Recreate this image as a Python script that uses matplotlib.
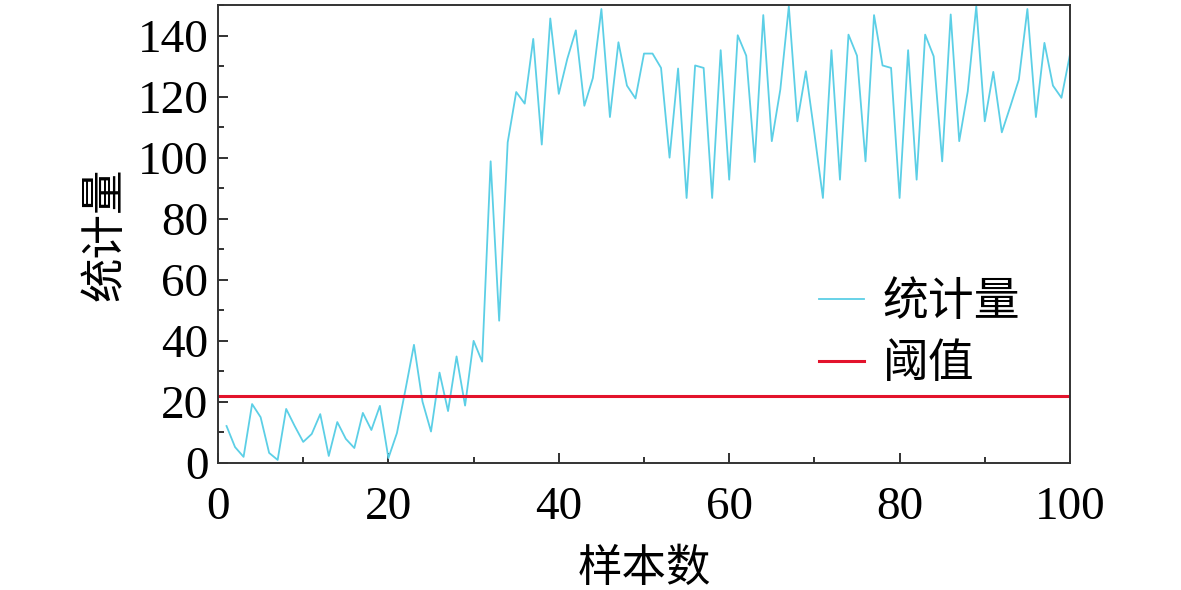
import numpy as np
import matplotlib.pyplot as plt
from matplotlib.ticker import MultipleLocator

# sample index and statistic values
samples = list(range(1, 101))
stat = [12.1, 5.2, 2.0, 19.3, 15.0, 3.3, 1.0, 17.7, 12.1, 6.9,
        9.5, 16.0, 2.3, 13.4, 7.9, 4.9, 16.4, 10.8, 18.7, 1.6,
        9.8, 24.0, 38.7, 20.1, 10.3, 29.6, 17.0, 34.9, 18.8, 40.0,
        33.2, 98.8, 46.6, 105.0, 121.5, 117.7, 138.9, 104.3, 145.6, 120.9,
        132.4, 141.7, 117.0, 126.1, 148.7, 113.3, 137.8, 123.6, 119.4, 134.1,
        134.1, 129.4, 100.0, 129.2, 86.8, 130.2, 129.4, 86.8, 135.2, 92.8,
        140.1, 133.4, 98.6, 146.7, 105.4, 122.3, 149.6, 111.9, 128.3, 108.0,
        86.8, 135.2, 92.8, 140.3, 133.4, 98.8, 146.7, 130.2, 129.4, 86.8,
        135.2, 92.8, 140.3, 133.2, 98.8, 146.9, 105.4, 121.7, 149.6, 111.9,
        128.1, 108.3, 116.8, 125.6, 148.7, 113.3, 137.6, 123.6, 119.6, 133.8]
threshold = 22.0

labels = ['统计量', '阈值']
xlabel = '样本数'
ylabel = '统计量'

fonts = ['Liberation Serif', 'Noto Sans CJK SC']
plt.rcParams['font.family'] = fonts

fig = plt.figure(figsize=(11.81, 5.90), dpi=100)
ax = fig.add_axes([0.1846, 0.2153, 0.7214, 0.7762])

ax.plot(samples, stat, color='#5CCFE6', lw=1.3, label=labels[0])
ax.axhline(threshold, color='#E3132C', lw=2.2, label=labels[1])

ax.set_xlim(0, 100)
ax.set_ylim(0, 150)
ax.xaxis.set_major_locator(MultipleLocator(20))
ax.xaxis.set_minor_locator(MultipleLocator(10))
ax.yaxis.set_major_locator(MultipleLocator(20))
ax.yaxis.set_minor_locator(MultipleLocator(10))
ax.set_yticks([0, 20, 40, 60, 80, 100, 120, 140])
ax.tick_params(which='both', direction='in', top=False, right=False,
               labelsize=34, width=1.3, color='#222222')
ax.tick_params(which='major', length=7, pad=7)
ax.tick_params(which='minor', length=4)
ax.tick_params(axis='x', which='major', pad=17)
for s in ax.spines.values():
    s.set_linewidth(1.4)
    s.set_color('#333333')

ax.set_xlabel(xlabel, fontsize=32, labelpad=14)
ax.set_ylabel(ylabel, fontsize=32, labelpad=8)

ax.legend(loc='center left', bbox_to_anchor=(0.705, 0.28), frameon=False,
          fontsize=33, handlelength=1.0, handletextpad=0.4,
          labelspacing=0.42, borderpad=0, borderaxespad=0)

fig.savefig('out.png', dpi=100)
